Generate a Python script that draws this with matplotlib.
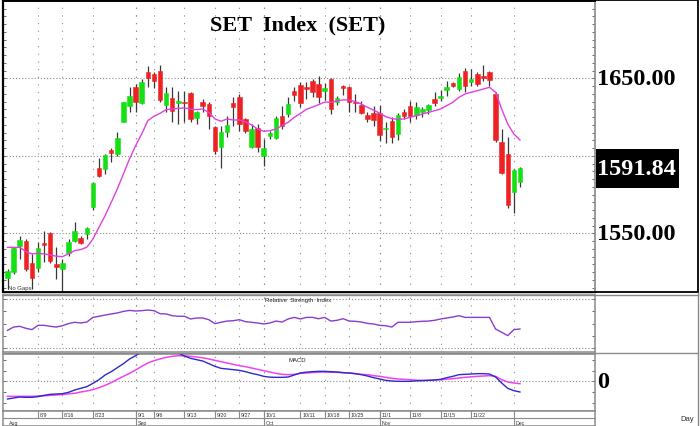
import matplotlib
matplotlib.use('Agg')
import matplotlib.pyplot as plt
from matplotlib.patches import Rectangle
from matplotlib.lines import Line2D
from matplotlib.ticker import MultipleLocator, FixedLocator
import numpy as np

# ---------------- data ----------------
opens = [1521.2, 1524.8, 1542.0, 1544.8, 1530.9, 1527.4, 1544.0, 1550.0, 1530.2, 1527.0,
         1537.1, 1545.3, 1546.8, 1549.6, 1567.2, 1591.9, 1591.5, 1604.0, 1601.2, 1622.0,
         1631.9, 1644.2, 1633.9, 1653.9, 1652.8, 1655.0, 1632.8, 1637.1, 1634.1, 1635.0,
         1640.3, 1624.2, 1634.5, 1633.4, 1618.4, 1605.5, 1615.2, 1634.1, 1637.7, 1623.8,
         1605.5, 1617.7, 1600.1, 1612.6, 1611.3, 1625.5, 1627.0, 1641.6, 1645.5, 1644.4,
         1648.3, 1646.3, 1642.0, 1649.8, 1634.8, 1644.9, 1644.4, 1634.2, 1632.8, 1626.5,
         1627.3, 1627.5, 1617.3, 1622.5, 1613.8, 1628.5, 1632.4, 1626.3, 1628.5, 1629.8,
         1636.7, 1637.1, 1642.5, 1647.0, 1643.1, 1654.5, 1647.8, 1652.8, 1651.3, 1654.3,
         1639.9, 1608.7, 1601.2, 1576.5, 1583.3]
highs = [1527.0, 1541.0, 1548.5, 1546.3, 1536.7, 1544.6, 1551.7, 1551.1, 1541.0, 1533.4,
         1546.3, 1557.1, 1548.0, 1554.3, 1583.3, 1598.4, 1601.2, 1604.8, 1615.6, 1635.0,
         1644.2, 1646.3, 1649.6, 1658.2, 1654.0, 1658.6, 1644.2, 1644.2, 1642.0, 1642.0,
         1641.0, 1629.0, 1636.7, 1634.5, 1619.5, 1619.5, 1625.9, 1637.7, 1639.9, 1624.2,
         1620.5, 1620.5, 1610.9, 1616.2, 1625.9, 1632.4, 1637.7, 1644.2, 1647.4, 1647.4,
         1649.4, 1651.5, 1646.8, 1650.0, 1638.6, 1645.7, 1645.0, 1639.9, 1635.6, 1628.0,
         1632.4, 1632.6, 1621.7, 1625.0, 1627.8, 1630.2, 1635.6, 1634.5, 1631.3, 1633.4,
         1641.0, 1642.7, 1648.5, 1647.8, 1653.4, 1656.5, 1656.0, 1654.3, 1658.6, 1655.0,
         1641.0, 1617.3, 1611.9, 1591.5, 1592.6]
lows = [1514.0, 1523.8, 1533.4, 1525.9, 1514.0, 1524.8, 1531.3, 1530.9, 1520.5, 1512.5,
        1535.6, 1544.6, 1543.0, 1546.3, 1565.3, 1586.1, 1588.3, 1595.8, 1600.1, 1621.6,
        1628.0, 1628.5, 1633.2, 1644.2, 1644.0, 1635.0, 1628.5, 1621.6, 1620.5, 1621.6,
        1621.6, 1620.5, 1628.0, 1617.3, 1601.2, 1591.9, 1611.9, 1619.5, 1616.2, 1614.7,
        1604.8, 1602.3, 1593.2, 1610.9, 1610.9, 1617.3, 1624.8, 1635.6, 1631.8, 1636.7,
        1637.7, 1634.2, 1636.0, 1627.0, 1633.1, 1639.0, 1628.0, 1628.0, 1627.0, 1622.0,
        1619.5, 1609.5, 1608.5, 1608.5, 1610.0, 1623.8, 1621.6, 1623.8, 1624.8, 1627.0,
        1632.4, 1635.6, 1638.8, 1644.2, 1642.0, 1641.4, 1645.3, 1644.8, 1648.5, 1645.3,
        1609.1, 1588.3, 1566.1, 1563.1, 1580.1]
closes = [1525.5, 1540.3, 1545.7, 1527.0, 1521.2, 1540.3, 1542.7, 1532.4, 1528.1, 1530.9,
          1544.6, 1551.7, 1544.0, 1553.4, 1582.5, 1587.2, 1600.8, 1601.8, 1611.3, 1634.5,
          1638.8, 1634.5, 1647.8, 1650.2, 1648.0, 1636.0, 1640.5, 1629.1, 1635.4, 1633.9,
          1623.8, 1628.5, 1631.9, 1625.9, 1603.3, 1615.2, 1619.9, 1631.3, 1620.5, 1616.2,
          1617.3, 1605.5, 1605.0, 1614.7, 1624.2, 1619.5, 1633.4, 1639.5, 1634.0, 1643.3,
          1641.0, 1638.0, 1644.0, 1630.4, 1637.5, 1643.6, 1634.5, 1634.0, 1627.3, 1623.7,
          1623.2, 1613.7, 1618.0, 1612.4, 1626.3, 1625.9, 1625.9, 1631.7, 1630.2, 1632.8,
          1633.9, 1638.8, 1644.2, 1644.8, 1651.1, 1645.3, 1649.6, 1646.3, 1650.0, 1649.1,
          1610.4, 1588.9, 1568.5, 1591.1, 1591.84]
ma_line = [1540.9, 1540.9, 1540.9, 1538.2, 1536.7, 1537.1, 1536.7, 1536.0, 1535.2, 1534.9,
           1536.7, 1538.8, 1539.5, 1541.0, 1546.3, 1553.9, 1561.4, 1570.0, 1578.6, 1588.3,
           1598.0, 1606.6, 1614.1, 1622.7, 1625.5, 1627.4, 1629.8, 1630.2, 1630.6, 1630.9,
           1630.2, 1629.8, 1630.2, 1628.0, 1623.8, 1622.3, 1623.8, 1623.1, 1623.1, 1622.0,
           1619.9, 1617.3, 1615.8, 1616.2, 1617.3, 1619.5, 1621.6, 1624.8, 1627.3, 1630.0,
           1631.5, 1633.0, 1634.7, 1634.5, 1635.4, 1636.1, 1636.0, 1635.0, 1633.4, 1631.3,
           1629.5, 1627.5, 1625.3, 1624.0, 1623.5, 1623.8, 1624.8, 1625.9, 1627.0, 1628.0,
           1629.1, 1630.2, 1632.4, 1634.5, 1637.7, 1639.9, 1641.0, 1642.0, 1643.1, 1644.2,
           1641.0, 1630.2, 1620.5, 1614.1, 1610.2]
rsi = [44.4, 47.1, 47.7, 46.1, 45.0, 48.5, 48.5, 47.7, 47.1, 48.2,
       49.9, 51.0, 50.4, 51.2, 55.0, 55.9, 56.9, 57.8, 58.6, 59.9,
       60.7, 60.2, 60.5, 61.0, 60.5, 58.0, 57.8, 56.4, 55.9, 55.9,
       53.7, 54.5, 54.5, 53.1, 49.9, 51.0, 52.0, 52.3, 53.1, 51.5,
       51.0, 50.4, 49.6, 50.4, 52.0, 51.2, 53.7, 55.0, 53.7, 55.0,
       55.0, 53.9, 55.0, 52.0, 52.6, 53.9, 52.0, 51.8, 51.2, 50.1,
       49.6, 48.5, 48.2, 47.1, 51.0, 51.0, 51.0, 51.5, 51.8, 52.0,
       52.6, 53.7, 54.5, 55.3, 56.4, 55.0, 55.0, 55.0, 55.0, 55.0,
       45.5, 42.8, 40.1, 45.0, 45.5]
macd = [-21.2, -20.0, -18.8, -19.2, -19.2, -18.4, -16.8, -15.6, -15.2, -14.8,
        -13.2, -10.4, -8.4, -6.4, -2.4, 2.0, 7.6, 11.6, 16.4, 21.2,
        26.8, 30.8, 35.6, 39.6, 42.0, 42.8, 41.2, 38.0, 34.0, 30.4,
        27.6, 26.0, 24.4, 21.2, 18.0, 15.6, 14.8, 14.0, 13.2, 11.6,
        9.6, 8.0, 6.0, 5.0, 4.8, 4.8, 5.2, 7.6, 10.0, 11.0,
        11.6, 12.0, 12.0, 11.6, 11.2, 10.4, 10.0, 9.2, 8.0, 6.4,
        4.4, 2.8, 1.2, 0.4, 0.0, 0.0, 0.0, 0.6, 0.8, 1.2,
        1.6, 2.4, 4.4, 6.0, 8.0, 8.4, 8.8, 9.2, 9.2, 8.8,
        5.2, -2.0, -8.4, -11.2, -12.8]
signal = [-18.0, -18.0, -18.0, -18.0, -18.0, -17.6, -17.4, -16.8, -16.4, -15.8,
          -15.0, -14.4, -12.8, -11.6, -10.0, -7.6, -4.8, -1.6, 2.4, 6.0,
          9.6, 13.6, 18.0, 22.0, 24.8, 26.8, 28.8, 30.0, 30.8, 30.6,
          30.0, 29.2, 28.2, 26.8, 25.2, 23.6, 22.0, 20.4, 18.8, 17.6,
          16.0, 14.4, 12.8, 11.2, 9.6, 8.4, 8.0, 8.4, 9.6, 10.0,
          10.6, 11.0, 11.2, 11.0, 10.8, 10.4, 10.0, 9.2, 8.4, 8.0,
          6.8, 6.0, 4.8, 3.6, 2.8, 2.4, 2.0, 1.4, 1.2, 1.2,
          1.6, 2.0, 2.6, 3.2, 4.0, 4.8, 5.4, 6.0, 6.4, 6.8,
          6.0, 2.0, -0.8, -2.0, -2.8]
tick_idx = [5, 9, 14, 21, 24, 29, 34, 38, 42, 48, 52, 56, 61, 66, 71, 76]
tick_labels = ['8/9', '8/16', '8/23', '9/1', '9/6', '9/13', '9/20', '9/27', '10/1',
               '10/11', '10/18', '10/25', '11/1', '11/8', '11/15', '11/22']
month_idx = [0, 21, 42, 61, 83]
month_labels = ['Aug', 'Sep', 'Oct', 'Nov', 'Dec']
price_grid = [1550, 1600, 1650]
price_labels = [1550, 1650]
rsi_grid = [30, 70]

# ---------------- figure ----------------
W, H = 700, 427
fig = plt.figure(figsize=(7, 4.27), dpi=100)
fig.patch.set_facecolor('white')


def fx(x):
    return x / W


def fy(y):
    return 1 - y / H


def axrect(x0, y0, x1, y1):
    return [fx(x0), fy(y1), fx(x1) - fx(x0), fy(y0) - fy(y1)]


ax = fig.add_axes(axrect(3, 2, 595, 293))
ax_r = fig.add_axes(axrect(3, 296, 595, 353))
ax_m = fig.add_axes(axrect(3, 355, 595, 412))
ax_d = fig.add_axes(axrect(3, 412, 595, 427))

o = np.array(opens); h = np.array(highs); l = np.array(lows); c = np.array(closes)
n = len(c)
x = np.arange(n)
XLIM = (-0.74, 96.3)

GRID = '#8c8c8c'
sparse = (0, (1, 5.9))
dense = (0, (1, 1.8))

for a in (ax, ax_r, ax_m, ax_d):
    a.set_xlim(*XLIM)
    a.set_xticks([])
    a.set_facecolor('white')

for a in (ax, ax_r, ax_m):
    for t in tick_idx + month_idx[1:]:
        a.axvline(t, color=GRID, lw=0.8, ls=sparse, zorder=0)

# ---- main price panel ----
ax.set_ylim(1512.1, 1699.9)
for p in price_grid:
    ax.axhline(p, color=GRID, lw=0.8, ls=dense, zorder=0)

up = c >= o
col = np.where(up, '#14e014', '#ee2222')
ax.vlines(x, l, h, color='#383838', lw=0.9, zorder=2)
bottoms = np.minimum(o, c)
heights = np.maximum(np.abs(c - o), 0.6)
ax.bar(x, heights, bottom=bottoms, width=0.74, color=col, edgecolor=col, lw=0.4, zorder=3)
ax.plot(x, ma_line, color='#e040e0', lw=1.0, zorder=4)

ax.yaxis.set_major_locator(FixedLocator(price_grid))
ax.yaxis.set_minor_locator(MultipleLocator(5))
ax.tick_params(axis='y', which='both', direction='in', left=True, right=True,
               labelleft=False, labelright=False, length=2.5, width=0.6, color='#555555')
ax.spines['left'].set_color('black')
ax.spines['left'].set_linewidth(1.6)
ax.spines['top'].set_color('black')
ax.spines['top'].set_linewidth(1.4)
ax.spines['bottom'].set_color('black')
ax.spines['bottom'].set_linewidth(1.0)
ax.spines['right'].set_color('#8a8a8a')
ax.spines['right'].set_linewidth(1.2)

ytr = ax.get_yaxis_transform()
xoff = 1 + 2.0 / 592
for p in price_labels:
    ax.text(xoff, p, f'{p:.2f}', transform=ytr, ha='left', va='center',
            fontsize=17.5, fontweight='bold', family='Liberation Serif', color='black',
            clip_on=False)
last = closes[-1]
ax.add_patch(Rectangle((1 + 1.0 / 592, last - 12.3), 83.0 / 592, 24.6, transform=ytr,
                       facecolor='black', edgecolor='none', clip_on=False, zorder=5))
ax.text(xoff, last, f'{last:.2f}', transform=ytr, ha='left', va='center',
        fontsize=17.5, fontweight='bold', family='Liberation Serif', color='white',
        clip_on=False, zorder=6)

ax.text((298 - 3) / 592, 1 - (25 - 2) / 291, 'SET  Index  (SET)', transform=ax.transAxes,
        ha='center', va='center', fontsize=16, fontweight='bold', family='Liberation Serif')
ax.text(5 / 592, 1 - (288.5 - 2) / 291, 'No Gaps', transform=ax.transAxes, ha='left',
        va='center', fontsize=4.3, family='Liberation Sans', color='#333333')

# ---- RSI panel ----
ax_r.set_ylim(26.7, 73.3)
for v in rsi_grid:
    ax_r.axhline(v, color=GRID, lw=0.8, ls=dense, zorder=0)
ax_r.plot(x, rsi, color='#8a3cd0', lw=1.0, zorder=3)
ax_r.yaxis.set_major_locator(MultipleLocator(10))
ax_r.tick_params(axis='y', which='both', direction='in', left=True, right=True,
                 labelleft=False, length=2, width=0.6, color='#555555')
ax_r.text((298 - 3) / 592, 1 - 4.5 / 57, 'Relative  Strength  Index', transform=ax_r.transAxes,
          ha='center', va='center', fontsize=4.3, family='Liberation Sans', color='#222222')

# ---- MACD panel ----
ax_m.set_ylim(-35.6, 32.8)
ax_m.axhline(0, color=GRID, lw=0.8, ls=dense, zorder=0)
ax_m.plot(x, signal, color='#ee44ee', lw=1.1, zorder=3)
ax_m.plot(x, macd, color='#2a2ac8', lw=1.0, zorder=4)
ax_m.yaxis.set_major_locator(MultipleLocator(13))
ax_m.tick_params(axis='y', which='both', direction='in', left=True, right=True,
                 labelleft=False, length=2, width=0.6, color='#555555')
ax_m.text((297 - 3) / 592, 1 - 6 / 57, 'MACD', transform=ax_m.transAxes,
          ha='center', va='center', fontsize=4.3, family='Liberation Sans', color='#222222')
ax_m.text(xoff, 0, '0', transform=ax_m.get_yaxis_transform(), ha='left', va='center',
          fontsize=17.5, fontweight='bold', family='Liberation Serif', clip_on=False)

for a in (ax_r, ax_m, ax_d):
    for s in a.spines.values():
        s.set_color('#8a8a8a')
        s.set_linewidth(1.1)

# ---- date strip ----
ax_d.set_ylim(0, 1)
ax_d.set_yticks([])
ax_d.axhline(0.53, color='#8a8a8a', lw=0.8)
for t, lab in zip(tick_idx, tick_labels):
    ax_d.plot([t, t], [0.53, 1], color='#8a8a8a', lw=0.8)
    ax_d.text(t + 0.3, 0.78, lab, ha='left', va='center', fontsize=3.8,
              family='Liberation Sans', color='#333333')
for m, lab in zip(month_idx, month_labels):
    if m > 0:
        ax_d.plot([m, m], [0, 1], color='#8a8a8a', lw=0.8)
    ax_d.text(m + 0.3, 0.25, lab, ha='left', va='center', fontsize=3.8,
              family='Liberation Sans', color='#333333')

# ---- frames ----
fig.add_artist(Rectangle((fx(2.5), fy(293.0)), fx(698) - fx(2.5), fy(1.2) - fy(293.0),
                         transform=fig.transFigure, fill=False, ec='black', lw=1.3))
for yy in (295.5, 354):
    fig.add_artist(Line2D([fx(3), fx(698)], [fy(yy), fy(yy)], transform=fig.transFigure,
                          color='#8a8a8a', lw=1.0))
fig.add_artist(Line2D([fx(698), fx(698)], [fy(294), fy(427)], transform=fig.transFigure,
                      color='#8a8a8a', lw=1.0))
fig.text(fx(680), fy(419.5), 'Day', fontsize=5.5, family='Liberation Sans', va='center',
         color='#333333')

fig.savefig('out.png', dpi=100)
